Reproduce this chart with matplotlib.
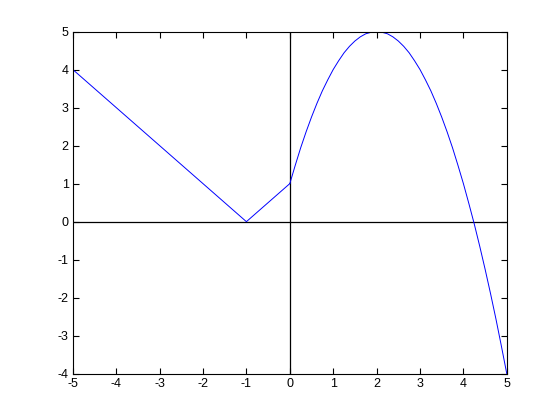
import matplotlib.pyplot as plt

# left branch (straight segments)
x_left = [-5, -1, 0]
y_left = [4, 0, 1]

# right branch, every 0.125
x_right = [0, 0.125, 0.25, 0.375, 0.5, 0.625, 0.75, 0.875, 1, 1.125,
           1.25, 1.375, 1.5, 1.625, 1.75, 1.875, 2, 2.125, 2.25, 2.375,
           2.5, 2.625, 2.75, 2.875, 3, 3.125, 3.25, 3.375, 3.5, 3.625,
           3.75, 3.875, 4, 4.125, 4.25, 4.375, 4.5, 4.625, 4.75, 4.875, 5]
y_right = [1, 1.48, 1.94, 2.36, 2.75, 3.11, 3.44, 3.73, 4, 4.23,
           4.44, 4.61, 4.75, 4.86, 4.94, 4.98, 5, 4.98, 4.94, 4.86,
           4.75, 4.61, 4.44, 4.23, 4, 3.73, 3.44, 3.11, 2.75, 2.36,
           1.94, 1.48, 1, 0.48, -0.06, -0.64, -1.25, -1.89, -2.56, -3.27, -4]

x_ticks = [-5, -4, -3, -2, -1, 0, 1, 2, 3, 4, 5]
y_ticks = [-4, -3, -2, -1, 0, 1, 2, 3, 4, 5]


def main():
    plt.rcParams['font.family'] = ['Liberation Sans', 'DejaVu Sans']
    plt.rcParams['axes.unicode_minus'] = False

    fig = plt.figure(figsize=(5.6, 4.2), dpi=100)
    ax = fig.add_axes([0.13, 0.11, 0.775, 0.815])

    # axis lines through the origin
    ax.plot([-5, 5], [0, 0], color='black', linewidth=0.9)
    ax.plot([0, 0], [-4, 5], color='black', linewidth=0.9)

    ax.plot(x_left, y_left, color='blue', linewidth=0.7)
    ax.plot(x_right, y_right, color='blue', linewidth=0.7)

    ax.set_xlim(-5, 5)
    ax.set_ylim(-4, 5)
    ax.set_xticks(x_ticks)
    ax.set_yticks(y_ticks)
    ax.set_xticklabels([str(t) for t in x_ticks])
    ax.set_yticklabels([str(t) for t in y_ticks])
    ax.tick_params(direction='in', length=4, width=0.8, labelsize=9,
                   top=True, right=True, pad=3)
    for s in ax.spines.values():
        s.set_linewidth(0.8)

    fig.savefig('out.png', dpi=100)
    plt.close(fig)


if __name__ == '__main__':
    main()
